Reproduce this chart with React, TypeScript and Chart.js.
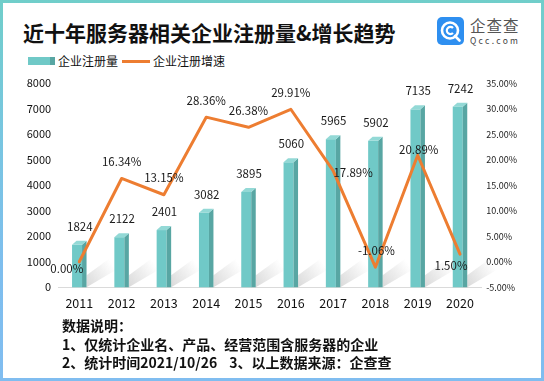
import React, { useEffect, useRef } from "react";
import { Chart, registerables } from "chart.js";

Chart.register(...registerables);

const years = ["2011", "2012", "2013", "2014", "2015", "2016", "2017", "2018", "2019", "2020"];
const registrations = [1824, 2122, 2401, 3082, 3895, 5060, 5965, 5902, 7135, 7242];
const growthRates = [0.0, 16.34, 13.15, 28.36, 26.38, 29.91, 17.89, -1.06, 20.89, 1.5];

const countAxis = { min: 0, max: 8000, step: 1000 };
const rateAxis = { min: -5, max: 35, step: 5 };

const titleText = "近十年服务器相关企业注册量&增长趋势";
const seriesNames = ["企业注册量", "企业注册增速"];
const noteTitle = "数据说明：";
const noteLine1 = "1、仅统计企业名、产品、经营范围含服务器的企业";
const noteLine2a = "2、统计时间2021/10/26";
const noteLine2b = "3、以上数据来源：企查查";

const FONT = '"Noto Sans CJK SC", "Noto Sans", sans-serif';
const TEAL = "#70C9C7";
const TEAL_SIDE = "#58A6A3";
const TEAL_TOP = "#93D9D6";
const ORANGE = "#ED7D31";

// label offsets for the growth line labels (dx, dy in px from the point)
const rateLabelOffsets: [number, number][] = [
  [-12.5, 7], [0, -17], [0, -17], [0, -17], [0, -17], [0, -17], [20, 2], [1, -17], [1, -5.5], [-9, 11],
];

const bar3d = {
  id: "bar3d",
  afterDatasetDraw(chart: any, args: any) {
    if (args.meta.type !== "bar") return;
    const ctx = chart.ctx;
    ctx.save();
    args.meta.data.forEach((el: any) => {
      const { x, y, base, width } = el.getProps(["x", "y", "base", "width"], true);
      const side = 4.5;
      const depth = 4;
      const left = x - width / 2;
      const right = x + width / 2;
      const fr = right - side;
      // soft shadow at base
      const g = ctx.createLinearGradient(right, base, right + 28, base - 20);
      g.addColorStop(0, "rgba(120,120,120,0.28)");
      g.addColorStop(1, "rgba(120,120,120,0)");
      ctx.fillStyle = g;
      ctx.beginPath();
      ctx.moveTo(right, base);
      ctx.lineTo(right, base - 12);
      ctx.lineTo(right + 30, base - 34);
      ctx.lineTo(right + 34, base - 20);
      ctx.closePath();
      ctx.fill();
      // front
      ctx.fillStyle = TEAL;
      ctx.fillRect(left, y + depth, fr - left, base - (y + depth));
      // side
      ctx.fillStyle = TEAL_SIDE;
      ctx.beginPath();
      ctx.moveTo(fr, y + depth);
      ctx.lineTo(right, y);
      ctx.lineTo(right, base);
      ctx.lineTo(fr, base);
      ctx.closePath();
      ctx.fill();
      // top
      ctx.fillStyle = TEAL_TOP;
      ctx.beginPath();
      ctx.moveTo(left, y + depth);
      ctx.lineTo(left + side, y);
      ctx.lineTo(right, y);
      ctx.lineTo(fr, y + depth);
      ctx.closePath();
      ctx.fill();
    });
    ctx.restore();
  },
};

const valueLabels = {
  id: "valueLabels",
  afterDatasetsDraw(chart: any) {
    const ctx = chart.ctx;
    ctx.save();
    ctx.textAlign = "center";
    ctx.textBaseline = "middle";
    ctx.fillStyle = "#1a1a1a";
    chart.data.datasets.forEach((ds: any, di: number) => {
      const meta = chart.getDatasetMeta(di);
      meta.data.forEach((el: any, i: number) => {
        const { x, y } = el.getProps(["x", "y"], true);
        ctx.font = `11.5px ${FONT}`;
        if (meta.type === "bar") {
          ctx.fillText(String(ds.data[i]), x + 0.5, y - 14.5);
        } else {
          const [dx, dy] = rateLabelOffsets[i];
          ctx.fillText(Number(ds.data[i]).toFixed(2) + "%", x + dx, y + dy);
        }
      });
    });
    ctx.restore();
  },
};

export default function App() {
  const canvasRef = useRef<HTMLCanvasElement | null>(null);

  useEffect(() => {
    if (!canvasRef.current) return;
    const chart = new Chart(canvasRef.current, {
      type: "bar",
      data: {
        labels: years,
        datasets: [
          {
            type: "line",
            label: seriesNames[1],
            data: growthRates,
            yAxisID: "y1",
            borderColor: ORANGE,
            backgroundColor: ORANGE,
            borderWidth: 3,
            pointRadius: 0,
            tension: 0,
            borderJoinStyle: "round",
            borderCapStyle: "round",
            order: 0,
          } as any,
          {
            type: "bar",
            label: seriesNames[0],
            data: registrations,
            yAxisID: "y",
            backgroundColor: "rgba(0,0,0,0)",
            barThickness: 14.5,
            order: 1,
          } as any,
        ],
      },
      options: {
        responsive: false,
        animation: false,
        layout: { padding: { top: 83.3, left: 0, right: 0, bottom: 0 } },
        plugins: {
          legend: { display: false },
          title: { display: false },
          tooltip: { enabled: false },
        },
        scales: {
          x: {
            grid: { display: false, drawTicks: false },
            border: { display: true, color: "#DADADA", width: 1 },
            ticks: { color: "#111", font: { size: 12.5, family: FONT }, padding: 8 },
            afterFit: (s: any) => {
              s.height = 381 - 287.3;
            },
          },
          y: {
            position: "left",
            min: countAxis.min,
            max: countAxis.max,
            grid: { display: false, drawTicks: false },
            border: { display: false },
            ticks: {
              stepSize: countAxis.step,
              color: "#111",
              font: { size: 11, family: FONT },
              padding: 7,
              callback: (v: any) => String(v),
            },
            afterFit: (s: any) => {
              s.width = 58.15;
            },
          },
          y1: {
            position: "right",
            min: rateAxis.min,
            max: rateAxis.max,
            grid: { display: false, drawTicks: false },
            border: { display: false },
            ticks: {
              stepSize: rateAxis.step,
              color: "#222",
              font: { size: 9, family: FONT },
              padding: 5,
              callback: (v: any) => Number(v).toFixed(2) + "%",
            },
            afterFit: (s: any) => {
              s.width = 544 - 481.15;
            },
          },
        },
      },
      plugins: [bar3d, valueLabels],
    });
    return () => chart.destroy();
  }, []);

  const abs = (o: React.CSSProperties): React.CSSProperties => ({ position: "absolute", ...o });
  const noteStyle = (top: number): React.CSSProperties =>
    abs({
      left: 62,
      top,
      fontSize: 14,
      lineHeight: "20px",
      fontWeight: 700,
      color: "#111",
      whiteSpace: "nowrap",
    });

  return (
    <div
      style={{
        position: "relative",
        width: 544,
        height: 381,
        boxSizing: "border-box",
        background: "linear-gradient(180deg, #70CECA 0%, #78C6E0 35%, #7EBEEE 70%, #80BDF0 100%)",
        fontFamily: FONT,
        overflow: "hidden",
      }}
    >
      <style>{`body{margin:0}`}</style>
      <div style={abs({ left: 3, top: 3, right: 3, bottom: 3, background: "#fff" })} />
      <div
        style={abs({
          left: 23,
          top: 20,
          fontSize: 21,
          lineHeight: "24px",
          fontWeight: 700,
          color: "#111",
          whiteSpace: "nowrap",
        })}
      >
        {titleText}
      </div>
      {/* logo */}
      <div style={abs({ left: 437, top: 17, width: 27, height: 28, borderRadius: 5, background: "#2E8FF0" })}>
        <svg width="27" height="28" viewBox="0 0 27 28">
          <circle cx="13" cy="13.5" r="8" fill="none" stroke="#fff" strokeWidth="2.6" />
          <path d="M16 11 A3.6 3.6 0 1 0 16 16" fill="none" stroke="#fff" strokeWidth="2.2" />
          <path d="M18 19 L22.5 23.5" stroke="#fff" strokeWidth="2.6" strokeLinecap="round" />
        </svg>
      </div>
      <div style={abs({ left: 470, top: 15, fontSize: 15.5, lineHeight: "20px", color: "#555", letterSpacing: 1, whiteSpace: "nowrap" })}>
        企查查
      </div>
      <div style={abs({ left: 470, top: 35, fontSize: 8.5, lineHeight: "11px", color: "#444", letterSpacing: 2.3, whiteSpace: "nowrap" })}>
        Qcc.com
      </div>
      {/* legend */}
      <div style={abs({ left: 28, top: 57, width: 22, height: 8, background: TEAL })} />
      <div style={abs({ left: 50, top: 57, width: 5, height: 8, background: TEAL_SIDE })} />
      <div style={abs({ left: 58, top: 53, fontSize: 12, lineHeight: "16px", color: "#111", whiteSpace: "nowrap" })}>
        {seriesNames[0]}
      </div>
      <div style={abs({ left: 121.5, top: 59.5, width: 28.5, height: 3, background: ORANGE })} />
      <div style={abs({ left: 153, top: 53, fontSize: 12, lineHeight: "16px", color: "#111", whiteSpace: "nowrap" })}>
        {seriesNames[1]}
      </div>
      <canvas
        ref={canvasRef}
        width={544}
        height={381}
        style={abs({ left: 0, top: 0, width: 544, height: 381 })}
      />
      {/* notes */}
      <div style={noteStyle(315)}>{noteTitle}</div>
      <div style={noteStyle(334)}>{noteLine1}</div>
      <div style={noteStyle(352)}>
        {noteLine2a}
        <span style={{ marginLeft: 12 }}>{noteLine2b}</span>
      </div>
    </div>
  );
}
